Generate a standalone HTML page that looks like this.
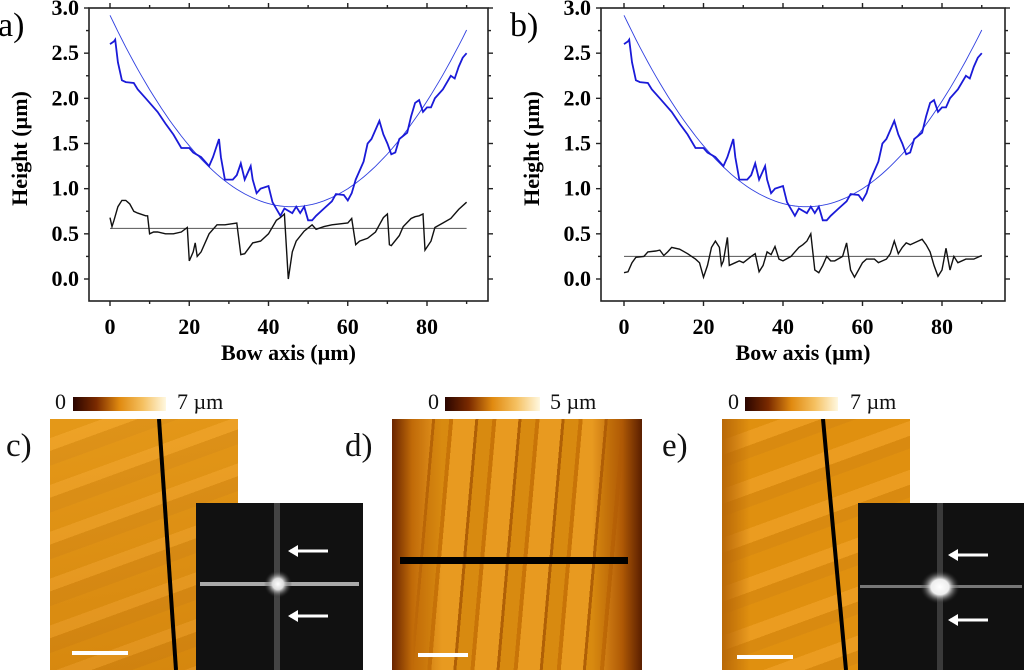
<!DOCTYPE html>
<html><head><meta charset="utf-8">
<style>
body{margin:0;width:1024px;height:670px;background:#fff;overflow:hidden;position:relative;font-family:"Liberation Serif",serif}
.lbl{position:absolute;font-size:33px;color:#111}
.cb{position:absolute;font-size:22px;color:#111}
.img{position:absolute;overflow:hidden}
svg text{font-family:"Liberation Serif",serif}
</style></head>
<body>
<svg id="charts" width="1024" height="380" style="position:absolute;left:0;top:0"></svg>

<div class="lbl" style="left:6px;top:428px">c)</div>
<div class="lbl" style="left:345px;top:428px">d)</div>
<div class="lbl" style="left:662px;top:428px">e)</div>

<div>
<div class="cb" style="left:55px;top:389px">0</div>
<div style="position:absolute;left:73px;top:397px;width:93px;height:14px;background:linear-gradient(90deg,#2a0500,#7a2a00,#e08a10,#f5c060,#fff8e0)"></div>
<div class="cb" style="left:177px;top:389px">7 µm</div></div>
<div>
<div class="cb" style="left:428px;top:389px">0</div>
<div style="position:absolute;left:445px;top:397px;width:95px;height:14px;background:linear-gradient(90deg,#2a0500,#7a2a00,#e08a10,#f5c060,#fff8e0)"></div>
<div class="cb" style="left:550px;top:389px">5 µm</div></div>
<div>
<div class="cb" style="left:728px;top:389px">0</div>
<div style="position:absolute;left:745px;top:397px;width:93px;height:14px;background:linear-gradient(90deg,#2a0500,#7a2a00,#e08a10,#f5c060,#fff8e0)"></div>
<div class="cb" style="left:850px;top:389px">7 µm</div></div>

<div class="img" style="left:50px;top:419px;width:188px;height:251px;background:linear-gradient(170deg,rgba(255,200,80,.15),rgba(120,50,0,.1)),repeating-linear-gradient(160deg,#e0900f 0 18px,#eb9c20 18px 30px,#d98a10 30px 44px),#e39418">
 <svg width="188" height="251" style="position:absolute;left:0;top:0"><line x1="109" y1="0" x2="126" y2="251" stroke="#000" stroke-width="4"/><rect x="22" y="232" width="56" height="4" fill="#fff"/></svg></div>
<div class="img" style="left:196px;top:503px;width:167px;height:167px;background:#111">
 <svg width="167" height="167"><defs><radialGradient id="gl"><stop offset="0" stop-color="#fff"/><stop offset="0.4" stop-color="#ddd"/><stop offset="1" stop-color="#222" stop-opacity="0"/></radialGradient></defs>
 <rect x="78" y="0" width="6" height="167" fill="#444"/><rect x="4" y="79" width="159" height="4" fill="#aaa"/><circle cx="82" cy="81" r="14" fill="url(#gl)"/>
 <line x1="94" y1="48" x2="132" y2="48" stroke="#fff" stroke-width="3"/><polygon points="92,48 102,42 102,54" fill="#fff"/>
 <line x1="94" y1="113" x2="132" y2="113" stroke="#fff" stroke-width="3"/><polygon points="92,113 102,107 102,119" fill="#fff"/></svg></div>

<div class="img" style="left:392px;top:419px;width:250px;height:251px;background:linear-gradient(90deg,#6a2500 0,#c06a08 8%,transparent 20%,transparent 80%,#b05a05 92%,#5a1e00 100%),repeating-linear-gradient(95deg,#d88a10 0 14px,#c87408 14px 18px,#e89a20 18px 40px,#b06006 40px 43px),#dd9015">
 <svg width="250" height="251" style="position:absolute;left:0;top:0"><rect x="8" y="138" width="228" height="7" fill="#000"/><rect x="26" y="234" width="50" height="4" fill="#fff"/></svg></div>

<div class="img" style="left:722px;top:419px;width:188px;height:251px;background:linear-gradient(90deg,#b86808,transparent 15%),repeating-linear-gradient(160deg,#e0900f 0 20px,#eb9c20 20px 34px,#d98a10 34px 46px),#e39418">
 <svg width="188" height="251" style="position:absolute;left:0;top:0"><line x1="101" y1="0" x2="124" y2="251" stroke="#000" stroke-width="4"/><rect x="15" y="236" width="56" height="4" fill="#fff"/></svg></div>
<div class="img" style="left:858px;top:503px;width:166px;height:167px;background:#111">
 <svg width="166" height="167"><defs><radialGradient id="gl2"><stop offset="0" stop-color="#fff"/><stop offset="0.45" stop-color="#eee"/><stop offset="1" stop-color="#222" stop-opacity="0"/></radialGradient></defs>
 <rect x="79" y="0" width="6" height="167" fill="#3a3a3a"/><rect x="2" y="82" width="162" height="3" fill="#777"/><ellipse cx="82" cy="84" rx="20" ry="17" fill="url(#gl2)"/>
 <line x1="92" y1="52" x2="130" y2="52" stroke="#fff" stroke-width="3"/><polygon points="90,52 100,46 100,58" fill="#fff"/>
 <line x1="92" y1="117" x2="130" y2="117" stroke="#fff" stroke-width="3"/><polygon points="90,117 100,111 100,123" fill="#fff"/></svg></div>

<script>
const xTicks=[0,20,40,60,80];
const yTicks=[0.0,0.5,1.0,1.5,2.0,2.5,3.0];
const profileX=[0,1,1.3,2,3,4,6,7,9,12,14,16,18,20,21,23,25,26,27.5,28,29,31,32,33,34,35.5,36,37,38,40,41,43,44,46,47,48,49,50,51,52,54,56,57,59,60,61,62,64,65,66,68,69,70,71,72,73,75,76,77,78,79,80,81,82,84,86,87,88,89,90];
const profileY=[2.6,2.63,2.65,2.4,2.2,2.18,2.17,2.1,2.0,1.85,1.72,1.6,1.45,1.45,1.4,1.35,1.25,1.35,1.55,1.35,1.1,1.1,1.15,1.28,1.1,1.25,1.1,0.95,1.0,1.03,0.85,0.7,0.78,0.73,0.8,0.73,0.8,0.65,0.65,0.7,0.78,0.86,0.94,0.93,0.87,0.95,1.1,1.3,1.5,1.55,1.75,1.6,1.5,1.38,1.4,1.55,1.62,1.8,1.95,1.98,1.85,1.9,1.9,2.0,2.1,2.25,2.22,2.35,2.45,2.5];
const fitParams=[0.001006,45.9,0.8]; // a, vertex x, vertex y
const residAX=[0,0.5,1,2,3,4,5,6,7,9,9.5,10,11,12,14,16,18,19.5,20,21,21.5,22,23,25,27,29,32,33,34,36,38,40,42,43,44,45,46,47,49,51,52,54,56,60,61,62,63,65,67,68,69,70,70.5,71,73,74,76,77,78,79,79.5,81,82,84,86,88,90];
const residAY=[0.68,0.58,0.65,0.8,0.87,0.87,0.83,0.75,0.73,0.7,0.7,0.5,0.52,0.52,0.5,0.5,0.52,0.57,0.2,0.3,0.4,0.25,0.3,0.5,0.6,0.6,0.62,0.27,0.28,0.4,0.42,0.5,0.65,0.68,0.72,0.0,0.3,0.42,0.53,0.6,0.55,0.58,0.6,0.62,0.67,0.38,0.42,0.45,0.52,0.6,0.68,0.72,0.38,0.37,0.48,0.58,0.67,0.69,0.7,0.72,0.32,0.42,0.57,0.62,0.67,0.77,0.85];
const baselineA=[0.56];
const residBX=[0,1,2,3,5,6,8,9,10,11,12,14,16,17,18,19,20,21,22,23,24,24.5,25,26,26.5,28,29,30,32,33,34,35,36,37,38,39,40,42,43,44,45,46,47,48,49,50,51,52,53,55,56,57,58,59,60,61,63,64,66,67,68,69,70,71,72,74,75,76,77,78,79,80,81,82,83,84,86,88,90];
const residBY=[0.07,0.08,0.18,0.24,0.25,0.3,0.31,0.32,0.26,0.3,0.35,0.33,0.28,0.25,0.22,0.18,0.02,0.15,0.35,0.42,0.35,0.15,0.2,0.46,0.15,0.18,0.2,0.18,0.25,0.28,0.08,0.15,0.3,0.27,0.36,0.22,0.2,0.25,0.3,0.35,0.38,0.42,0.5,0.1,0.07,0.15,0.25,0.2,0.2,0.25,0.4,0.1,0.02,0.1,0.18,0.22,0.22,0.18,0.22,0.28,0.42,0.28,0.35,0.4,0.38,0.42,0.44,0.38,0.3,0.15,0.03,0.1,0.34,0.1,0.25,0.18,0.22,0.22,0.26];
const baselineB=[0.25];

const NS='http://www.w3.org/2000/svg';
const svg=document.getElementById('charts');
function mk(tag,attrs,parent){const e=document.createElementNS(NS,tag);for(const k in attrs)e.setAttribute(k,attrs[k]);(parent||svg).appendChild(e);return e;}

function drawPlot(id,label,ox,x80,frameL,frameR,rx,ry,base){
  const sx=v=>ox+(x80-ox)*v/80;
  const sy=v=>279-(279-8)*v/3;
  const g=mk('g',{});
  
  
  const top=8,bot=301;
  const fr=mk('rect',{x:frameL,y:top,width:frameR-frameL,height:bot-top,fill:'none',stroke:'#222','stroke-width':1.6},g);
  
  
  for(let v=0;v<=90;v+=10){const x=sx(v),L=v%20===0?5:3;
    mk('line',{x1:x,y1:bot,x2:x,y2:bot+L,stroke:'#222','stroke-width':1.4},g);
    mk('line',{x1:x,y1:top,x2:x,y2:top-L,stroke:'#222','stroke-width':1.4},g);}
  for(let v=0;v<=3.001;v+=0.25){const y=sy(v),L=Math.abs(v*2-Math.round(v*2))<0.01?5:3;
    mk('line',{x1:frameL,y1:y,x2:frameL-L,y2:y,stroke:'#222','stroke-width':1.4},g);
    mk('line',{x1:frameR,y1:y,x2:frameR+L,y2:y,stroke:'#222','stroke-width':1.4},g);}
  xTicks.forEach(v=>{const t=mk('text',{x:sx(v),y:334,'text-anchor':'middle','font-size':22,'font-weight':'bold'},g);t.textContent=v;
    
    });
  yTicks.forEach(v=>{const t=mk('text',{x:frameL-10,y:sy(v)+7,'text-anchor':'end','font-size':22,'font-weight':'bold'},g);t.textContent=v.toFixed(1);
    
    });
  const xt=mk('text',{x:(frameL+frameR)/2,y:360,'text-anchor':'middle','font-size':22,'font-weight':'bold'},g);xt.textContent='Bow axis (µm)';
  
  
  const yt=mk('text',{x:0,y:0,'text-anchor':'middle','font-size':22,'font-weight':'bold',transform:`translate(${frameL-62},${(top+bot)/2-6}) rotate(-90)`},g);yt.textContent='Height (µm)';
  
  
  const pl=mk('text',{x:frameL-91,y:36,'font-size':34},g);pl.textContent=label;
  
  
  let d='';for(let v=0;v<=90;v+=1){const h=fitParams[0]*(v-fitParams[1])**2+fitParams[2];d+=(v?'L':'M')+sx(v).toFixed(1)+','+sy(h).toFixed(1);}
  const fit=mk('path',{d:d,fill:'none',stroke:'#3040e0','stroke-width':0.9},g);
  
  
  const pts=(X,Y)=>X.map((v,i)=>sx(v).toFixed(1)+','+sy(Y[i]).toFixed(1)).join(' ');
  const bl=mk('line',{x1:sx(0),x2:sx(90),y1:sy(base[0]),y2:sy(base[0]),stroke:'#555','stroke-width':1},g);
  
  
  const p=mk('polyline',{points:pts(profileX,profileY),fill:'none',stroke:'#1a1ad8','stroke-width':1.8},g);
  
  
  const r=mk('polyline',{points:pts(rx,ry),fill:'none',stroke:'#111','stroke-width':1.4},g);
  
  
}
drawPlot('a','a)',110,427,89,488,residAX,residAY,baselineA);
drawPlot('b','b)',624,942,601,1005,residBX,residBY,baselineB);
</script>
</body></html>
